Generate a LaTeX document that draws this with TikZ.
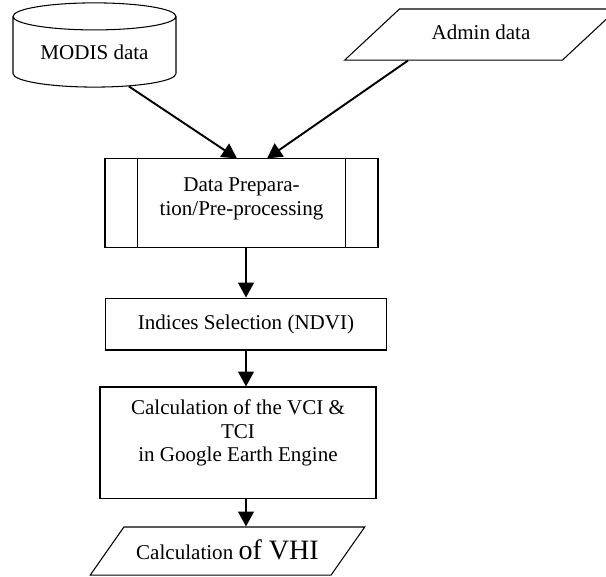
\documentclass[tikz,border=0pt]{standalone}
\usepackage{fontspec}
\setmainfont{Liberation Serif}
\usetikzlibrary{calc,positioning,arrows.meta,shapes.geometric}

\begin{document}
\begin{tikzpicture}[x=0.57pt, y=-0.57pt,
		every node/.style={font=\fontsize{12}{13.5}\selectfont, inner sep=0pt, align=center},
		box/.style={draw, line width=0.6pt, rectangle},
		dbase/.style={draw, line width=0.6pt, cylinder, shape border rotate=90, aspect=0.25},
		iodata/.style={draw, line width=0.6pt, trapezium},
		flow/.style={line width=1.1pt, -{Triangle[length=8.5pt,width=9pt]}}]
		
		\useasboundingbox (0,0) rectangle (606,576);
		
		%------------------------------------------------
		% Inputs
		%------------------------------------------------
		\node [dbase, minimum width=92.9pt, minimum height=48pt] (modis) at (94.5,52) {MODIS data};
		\node [iodata, trapezium left angle=43, trapezium right angle=137,
			text height=8.5pt, text depth=3pt, inner xsep=18.3pt, inner ysep=8.8pt] (admin) at (481,34.5) {Admin data};
		
		%------------------------------------------------
		% Processing steps
		%------------------------------------------------
		\node [box, minimum width=155.6pt, minimum height=50.2pt] (prep) at (241.5,203)
			{Data Prepara-\\tion/Pre-processing\\[-6pt]\mbox{}};
		\draw [line width=0.6pt] ($(prep.north west)+(33,0)$) -- ($(prep.south west)+(33,0)$);
		\draw [line width=0.6pt] ($(prep.north east)+(-33,0)$) -- ($(prep.south east)+(-33,0)$);
		
		\node [box, minimum width=160.7pt, minimum height=29.6pt] (idx) at (246,324)
			{Indices Selection (NDVI)};
		\node [box, minimum width=157.3pt, minimum height=63.3pt] (calc) at (238,442.5)
			{Calculation of the VCI \&\\TCI\\in Google Earth Engine\\\mbox{}};
		
		%------------------------------------------------
		% Output
		%------------------------------------------------
		\node [iodata, trapezium left angle=55, trapezium right angle=125,
			text height=12pt, text depth=2pt, inner xsep=7pt, inner ysep=6.7pt] (out) at (227.5,551)
			{Calculation {\fontsize{16}{18}\selectfont of VHI}};
		
		%------------------------------------------------
		% Flow
		%------------------------------------------------
		\draw [flow] (modis.-45) -- ($(prep.north)+(-4.5,0)$);
		\draw [flow] ($(admin.south)+(-73,0)$) -- ($(prep.north)+(25.5,0)$);
		\draw [flow] (prep.south -| idx.north) -- (idx.north);
		\draw [flow] (idx.south) -- (idx.south |- calc.north);
		\draw [flow] (calc.south -| idx.south) -- (out.north -| idx.south);
		
\end{tikzpicture}
\end{document}
